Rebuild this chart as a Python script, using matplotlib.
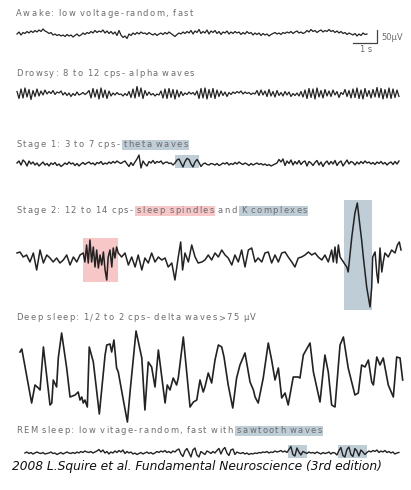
import numpy as np
import matplotlib
matplotlib.use("Agg")
import matplotlib.pyplot as plt
import matplotlib.transforms as mtransforms
from matplotlib.patches import Rectangle
from matplotlib.font_manager import FontProperties, findfont
from matplotlib.ft2font import FT2Font

try:
    from matplotlib.ft2font import LoadFlags
    NO_HINT = LoadFlags.NO_HINTING
except ImportError:
    from matplotlib.ft2font import LOAD_NO_HINTING as NO_HINT

# ---- EEG traces (time in s, amplitude in uV) ----
FS = 12  # samples per second for the evenly sampled traces

awake_uv = [
    0, 8, -4, 6, 2, 10, 4, 12, 6, 14, 8, 16,
    10, 20, 12, 8, 2, 6, -4, 0, -6, -2, -8, -4,
    -10, -2, -8, -4, -12, -6, 0, -8, -4, 4, -2, 6,
    2, 10, 4, 14, 6, 12, 8, 16, 4, 12, 2, 10,
    0, 8, -6, 14, -4, -14, -8, -18, 0, -6, 4, -2,
    6, 0, 8, 2, 4, -2, 6, 0, -4, 2, -6, 0,
    4, -2, 6, 0, 8, 2, -4, -10, -2, 4, 0, 8,
    2, 10, 4, 14, 0, 12, 6, 18, 2, 10, 4, 16,
    0, 12, 6, 14, 2, 10, -2, 8, 4, 12, 0, 8,
    2, 10, 4, 8, -2, 6, 0, 10, 2, 6, -4, 4,
    -2, 4, -6, 2, -4, 0, -8, -2, 2, 6, 0, 4,
    -2, 6, 2, 8, 4, 10, 2, 8, 12, 4, 8, 2,
    6, 14, 8, 18, 10, 14, 6, 12, 16, 8, 14, 10,
    18, 10, 14, 6, 12, 4, 10, 2, 6, -2, 4, 0,
    -4, 2, -8, 0, -6, 4, -2, 0,
]

drowsy_uv = [
    10, -18, 20, -16, 24, -12, 18, -22, 14, -10, 20, -8,
    12, -4, 16, 0, 10, 2, 14, -2, 8, 4, 12, -4,
    6, -6, 4, -10, 2, -6, 8, -4, 0, 6, -2, 4,
    14, -16, 22, -12, 18, -20, 24, -14, 16, -18, 12, -8,
    4, -4, 6, -2, 0, -8, 2, -6, 10, -14, 20, -16,
    30, -10, 24, -18, 14, -6, 8, -4, 2, -8, 0, -4,
    12, -16, 20, -18, 22, -14, 18, -20, 16, -12, 10, -6,
    4, -2, 8, 0, 6, -4, 12, -18, 22, -16, 24, -20,
    18, -14, 22, -18, 16, -10, 12, -6, 8, -10, 6, -2,
    8, 2, 10, 4, 12, 0, 8, 2, 6, -2, 4, 0,
    14, -6, 16, -4, 12, -10, 18, -8, 10, -12, 14, -6,
    6, -8, 10, -4, 8, -10, 2, -6, 4, -8, 10, -12,
    16, -18, 22, -14, 20, -20, 24, -12, 14, -16, 18, -8,
    12, -10, 16, -4, 10, -14, 6, -2, 18, -10, 14, -16,
    20, -14, 24, -18, 16, -20, 22, -10, 14, -16, 18, -12,
    26, -14, 22, -20, 18, -16, 24, -18, 20, -14, 16, -10,
]

stage1_uv = [
    4, 12, -4, 16, 8, -8, 12, 0, 8, -4, 4, -8,
    0, 8, -4, 2, -8, 4, -2, 6, -6, 0, -10, -4,
    4, -2, 8, 0, 4, -6, 2, -8, 0, 6, -2, 4,
    8, 0, 4, -4, 6, 2, 10, -2, 4, 0, 8, 2,
    10, 4, 12, 6, 2, 8, 12, 0, -10, 6, -6, 8,
    20, 36, -16, 12, 0, -8, 10, 4, 14, 2, 10, 6,
    12, 0, 6, 8, 2, 4, -4, 4, 16, 20, 4, -12,
    10, 22, 18, 0, -12, 8, 18, 6, -10, 0, 4, -2,
    -4, 2, 0, -4, 2, -6, -2, 4, 0, 6, -4, 2,
    -2, 6, 0, 8, 2, -2, 4, 0, -6, 2, -4, 0,
    4, -2, 2, -4, 0, -6, -2, -8, -4, 0, 4, 18,
    8, 20, -6, 12, 2, 16, -4, 10, 0, 14, -2, 8,
    12, -8, 10, 4, -6, 6, 14, -4, 8, -10, 4, 12,
    -2, 10, 0, 14, -6, 6, 12, -8, 4, 16, 0, 10,
    6, -4, 8, 0, 10, 2, 12, 4, 8, 0, 6, -2,
    8, 2, 10, 0, 6, -4, 4, 8, -2, 10, 0, 12,
]

stage2_t = [
    0.00, 0.125, 0.26, 0.40, 0.54, 0.68, 0.82, 0.96, 1.10, 1.24, 1.375, 1.51,
    1.65, 1.79, 1.93, 2.07, 2.21, 2.35, 2.49, 2.625, 2.76, 2.83, 2.90, 2.97,
    3.04, 3.11, 3.18, 3.25, 3.32, 3.39, 3.46, 3.53, 3.60, 3.67, 3.74, 3.80,
    3.875, 3.95, 4.01, 4.08, 4.15, 4.22, 4.36, 4.50, 4.64, 4.78, 4.92, 5.05,
    5.20, 5.33, 5.47, 5.61, 5.75, 5.89, 6.03, 6.17, 6.30, 6.45, 6.58, 6.72,
    6.82, 6.90, 7.00, 7.14, 7.28, 7.42, 7.55, 7.70, 7.83, 7.97, 8.11, 8.25,
    8.39, 8.53, 8.67, 8.80, 8.95, 9.08, 9.22, 9.36, 9.50, 9.64, 9.78, 9.92,
    10.05, 10.20, 10.33, 10.47, 10.61, 10.75, 10.89, 11.03, 11.17, 11.30, 11.45, 11.58,
    11.72, 11.86, 12.00, 12.14, 12.28, 12.42, 12.55, 12.70, 12.83, 12.97, 13.11, 13.18,
    13.25, 13.32, 13.39, 13.46, 13.74, 13.80, 13.95, 14.08, 14.18, 14.26, 14.36, 14.43,
    14.57, 14.71, 14.78, 14.82, 14.92, 14.99, 15.05, 15.125, 15.20, 15.26, 15.33, 15.47,
    15.61, 15.75, 15.85, 15.93, 16.00,
]
stage2_uv = [
    16, 20, 0, 8, -20, 16, -52, 28, -24, 8, -4, -20,
    -4, -24, -12, 8, -32, 0, -20, 8, 16, -20, 48, -24,
    68, -20, 40, -40, 28, -44, 8, -32, 20, -52, -92, 0,
    28, -40, 36, -4, 40, 16, 0, 16, -32, 0, -40, 8,
    -52, -4, -24, 16, -20, 0, -12, -4, -40, -24, -92, 0,
    60, -52, 16, -20, 48, 0, -24, -20, -12, 8, -12, 16,
    0, 28, 8, -4, -32, 8, -20, 28, -40, 28, 36, -20,
    -4, -20, 16, 20, -24, 8, -20, 16, 20, 0, -20, -40,
    -4, 0, 8, 20, 8, 16, 0, -12, 8, -20, 28, -20,
    40, -24, 48, 0, -40, -60, 80, 176, 216, 148, 68, 0,
    -120, -200, -120, 0, 20, -64, -104, 36, -60, -20, 16, 0,
    28, 16, 48, 60, 28,
]

deep_t = [
    0.125, 0.20, 0.61, 0.75, 0.89, 0.96, 1.10, 1.375, 1.45, 1.51, 1.65, 1.72,
    1.86, 2.07, 2.21, 2.42, 2.55, 2.625, 2.70, 2.76, 2.83, 2.93, 3.01, 3.18,
    3.43, 3.67, 3.74, 3.875, 3.945, 4.04, 4.15, 4.22, 4.43, 4.60, 4.71, 4.96,
    5.20, 5.33, 5.47, 5.61, 5.75, 5.89, 6.17, 6.26, 6.375, 6.51, 6.65, 6.72,
    6.93, 7.21, 7.35, 7.49, 7.625, 7.76, 7.83, 7.97, 8.11, 8.25, 8.39, 8.53,
    8.625, 8.80, 8.99, 9.15, 9.29, 9.50, 9.71, 9.85, 9.92, 10.05, 10.26, 10.47,
    10.61, 10.75, 10.89, 11.03, 11.17, 11.30, 11.51, 11.72, 11.79, 11.93, 12.21, 12.35,
    12.625, 12.83, 12.97, 13.11, 13.25, 13.46, 13.60, 13.80, 14.08, 14.22, 14.36, 14.50,
    14.64, 14.78, 14.85, 14.99, 15.125, 15.26, 15.47, 15.68, 15.82, 15.96, 16.07,
]
deep_uv = [
    92, 104, -112, -40, -52, -60, 112, -120, -112, -20, -48, 68,
    168, 28, -88, -80, -68, -100, -88, -112, -100, -128, 112, 52,
    -156, 80, 120, 124, 92, 140, 28, 12, -100, -188, -68, 176,
    68, -140, 52, 32, -48, 100, -112, -40, -60, -12, -40, -12,
    152, -128, -108, -100, -20, -68, -48, 8, -32, 60, 120, 112,
    72, -40, -132, -12, 40, 88, -28, -60, -88, -112, -12, 128,
    60, -20, 28, -92, -72, -120, -8, -8, -12, 80, 128, 12,
    -108, 80, 12, -120, -128, 120, 152, 28, -80, -72, 40, 32,
    60, -28, -40, 72, 40, 68, -40, -88, 72, 68, -20,
]

rem_t0 = 0.33
rem_uv = [
    0, 4, -2, 2, -4, 0, 4, 0, -2, 2, -4, -2,
    0, 4, -2, 0, -6, -2, 2, -4, 0, 4, 0, -2,
    2, -2, 4, 0, 6, 2, 8, 4, 2, 6, 0, 4,
    8, 14, 4, 12, 0, 6, -4, 4, 0, 8, 2, 10,
    4, 12, -2, 6, 0, 4, -4, 0, -6, -2, 2, -4,
    0, 4, -2, 2, -4, 0, 6, 2, 8, 4, 10, 2,
    6, 0, 8, 4, 12, 16, -4, -14, 8, 18, 2, -16,
    12, 20, -8, -16, 6, 0, -6, 8, 4, -2, 6, 0,
    10, 18, -4, 14, 22, 0, -10, 12, 16, -6, 4, 0,
    -2, 2, -4, 0, -6, -2, -4, 0, -2, 2, 0, 4,
    2, 6, 0, 4, 2, 8, 4, 6, 10, 4, 8, 2,
    14, 26, -6, -12, 20, 4, -8, 6, 2, -2, 4, 0,
    2, -2, 4, 0, -4, 2, -2, 0, 4, -4, 2, 0,
    -8, 10, 22, -10, -16, 14, 24, -6, -14, 18, 8, -12,
    12, 4, -6, 2, 8, 4, 10, 6, 12, 2, 8, 4,
    10, 2, 6, 0, 4, -4, 0, 2,
]

# ---- layout (figure pixels) ----
W, H = 411, 490
X0 = 17            # x pixel of t = 0
PX_PER_S = 24.0
PX_PER_UV = 0.25   # 50 uV -> 12.5 px

BLUE = "#bfcdd7"
PINK = "#f7c6c6"
TEXT_GREY = "#6c6c6c"
TRACE = "#222222"

fig = plt.figure(figsize=(W / 100, H / 100), dpi=100)
ax = fig.add_axes([0, 0, 1, 1])
ax.set_xlim(0, W)
ax.set_ylim(H, 0)
ax.axis("off")


def row_transform(y0):
    return mtransforms.Affine2D().scale(PX_PER_S, -PX_PER_UV).translate(X0, y0) + ax.transData


def draw_trace(y0, t, v, lw=1.0):
    ax.plot(t, v, color=TRACE, lw=lw, solid_joinstyle="round", transform=row_transform(y0), zorder=3)


def shade(y0, t1, t2, v1, v2, color):
    ax.add_patch(Rectangle((t1, v1), t2 - t1, v2 - v1, facecolor=color, edgecolor="none",
                           transform=row_transform(y0), zorder=1))


label_font = FT2Font(findfont(FontProperties(family="DejaVu Sans")))
LABEL_SIZE = 6.0
label_font.set_size(LABEL_SIZE, 100)


def spaced_label(x, base, parts, track=1.4):
    # letter-spaced caption, with optional highlighted segments
    for text, hl in parts:
        x_start = x
        for ch in text:
            ax.text(x, base, ch, fontsize=LABEL_SIZE, color=TEXT_GREY, family="DejaVu Sans",
                    ha="left", va="baseline", zorder=4)
            adv = label_font.load_char(ord(ch), flags=NO_HINT).linearHoriAdvance / 65536
            x += adv + (0.3 if ch == " " else track)
        if hl:
            ax.add_patch(Rectangle((x_start - 1.5, base - 7.5), x - track - x_start + 3, 10,
                                   facecolor=hl, edgecolor="none", zorder=2))
    return x


def even_t(values, t0=0.0):
    return t0 + np.arange(len(values)) / FS


# Awake
spaced_label(16, 16, [("Awake: low voltage-random, fast", None)])
draw_trace(34, even_t(awake_uv), awake_uv, lw=0.9)
scale = row_transform(34)
ax.plot([14.0, 15.0, 15.0], [-36, -36, 14], color="#444444", lw=0.9, transform=scale)
ax.text(15.17, -12, "50µV", fontsize=LABEL_SIZE, color=TEXT_GREY, ha="left", va="center", transform=scale)
ax.text(14.54, -64, "1 s", fontsize=LABEL_SIZE, color=TEXT_GREY, ha="center", va="center", transform=scale)

# Drowsy
spaced_label(16, 76, [("Drowsy: 8 to 12 cps- alpha waves", None)])
draw_trace(94, even_t(drowsy_uv), drowsy_uv, lw=0.9)

# Stage 1
spaced_label(16, 147, [("Stage 1: 3 to 7 cps- ", None), ("theta waves", BLUE)])
shade(164, 6.58, 7.58, -16, 36, BLUE)
draw_trace(164, even_t(stage1_uv), stage1_uv)

# Stage 2
spaced_label(16, 213, [("Stage 2: 12 to 14 cps- ", None), ("sleep spindles", PINK),
                       (" and ", None), ("K complexes", BLUE)])
shade(257, 2.75, 4.21, -100, 76, PINK)
shade(257, 13.625, 14.79, -212, 228, BLUE)
draw_trace(257, stage2_t, stage2_uv, lw=1.1)

# Deep sleep
spaced_label(16, 320, [("Deep sleep: 1/2 to 2 cps- delta waves>75 µV", None)])
draw_trace(375, deep_t, deep_uv, lw=1.2)

# REM sleep
spaced_label(16, 433, [("REM sleep: low vitage-random, fast with ", None), ("sawtooth waves", BLUE)])
shade(453, 11.29, 12.08, -20, 32, BLUE)
shade(453, 13.375, 14.58, -20, 32, BLUE)
draw_trace(453, even_t(rem_uv, rem_t0), rem_uv)

ax.text(12, 466, "2008 L.Squire et al. Fundamental Neuroscience (3rd edition)",
        fontsize=8.8, style="italic", family="DejaVu Sans", color="#111111", ha="left", va="center")

fig.savefig("out.png", dpi=100)
